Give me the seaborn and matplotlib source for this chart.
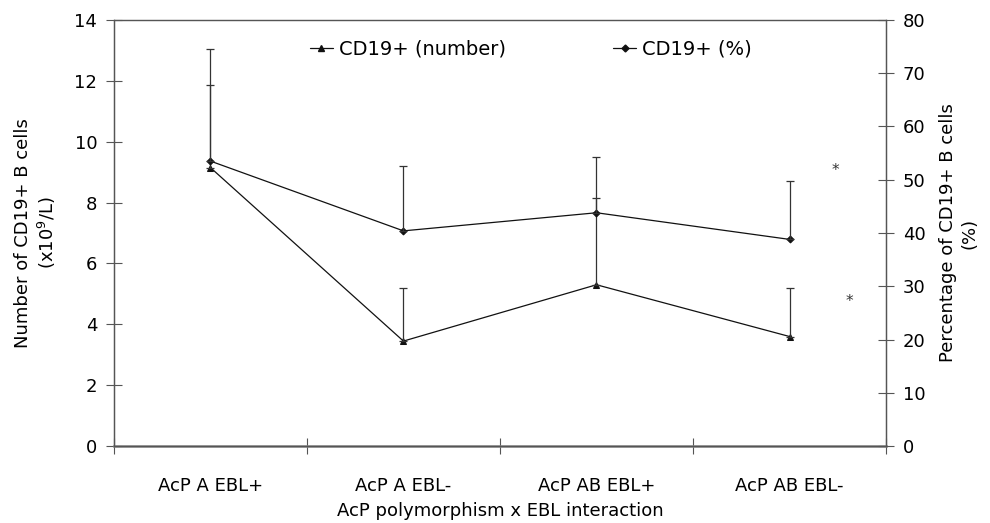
import numpy as np
import pandas as pd
import seaborn as sns
import matplotlib.pyplot as plt
from matplotlib.lines import Line2D

# Values
groups = ["AcP A EBL+", "AcP A EBL-", "AcP AB EBL+", "AcP AB EBL-"]
cd19_number = [9.15, 3.45, 5.3, 3.6]          # x10^9/L (left axis)
cd19_number_err = [2.7, 1.75, 2.85, 1.6]      # upper error only
cd19_pct = [53.5, 40.4, 43.8, 38.8]           # % (right axis)
cd19_pct_err = [21.1, 12.2, 10.5, 10.9]       # upper error only

sns.set_theme(style="white")
plt.rcParams['font.family'] = ['DejaVu Sans']
plt.rcParams['text.color'] = 'black'
plt.rcParams['axes.labelcolor'] = 'black'
plt.rcParams['xtick.labelcolor'] = 'black'
plt.rcParams['ytick.labelcolor'] = 'black'

df = pd.DataFrame({"pos": np.arange(len(groups)), "group": groups,
                   "number": cd19_number, "pct": cd19_pct})

fig, ax = plt.subplots(figsize=(9.9, 5.23), dpi=100)
ax2 = ax.twinx()

line_col = "#111111"
axis_col = "#555555"

# number series on left axis
sns.lineplot(data=df, x="pos", y="number", ax=ax, color=line_col, lw=0.9,
             marker="^", markersize=5, markeredgecolor=line_col)
ax.errorbar(df["pos"], df["number"], yerr=[np.zeros(len(groups)), cd19_number_err],
            fmt="none", ecolor="#333333", elinewidth=0.9, capsize=3, capthick=0.9)

# percentage series on right axis
sns.lineplot(data=df, x="pos", y="pct", ax=ax2, color=line_col, lw=0.9,
             marker="D", markersize=3.5, markeredgecolor=line_col)
ax2.errorbar(df["pos"], df["pct"], yerr=[np.zeros(len(groups)), cd19_pct_err],
             fmt="none", ecolor="#333333", elinewidth=0.9, capsize=3, capthick=0.9)

ax.set_xlim(-0.5, len(groups) - 0.5)
ax.set_ylim(0, 14)
ax2.set_ylim(0, 80)
ax.set_yticks(np.arange(0, 15, 2))
ax2.set_yticks(np.arange(0, 81, 10))

# ticks at category boundaries, labels at centres
ax.set_xticks(np.arange(-0.5, len(groups), 1.0))
ax.set_xticklabels([])
ax.set_xticks(np.arange(len(groups)), minor=True)
ax.set_xticklabels(groups, minor=True, fontsize=13)
ax.tick_params(axis="x", which="minor", bottom=True, length=0, pad=22)
ax.tick_params(axis="x", which="major", bottom=True, direction="inout", length=12,
               width=0.8, color=axis_col)
ax.tick_params(axis="y", left=True, direction="inout", length=12, width=0.8,
               color=axis_col, labelsize=13, pad=6)
ax2.tick_params(axis="y", right=True, direction="inout", length=12, width=0.8,
                color=axis_col, labelsize=13, pad=6)

for a in (ax, ax2):
    for side, sp in a.spines.items():
        sp.set_color(axis_col)
        sp.set_linewidth(0.9)
ax.spines["bottom"].set_linewidth(1.8)
ax.spines["bottom"].set_color("#808080")
ax.spines["top"].set_color("#808080")

ax.set_xlabel("AcP polymorphism x EBL interaction", fontsize=13, labelpad=5)
ax.set_ylabel("Number of CD19+ B cells\n(x10$^{9}$/L)", fontsize=13, labelpad=12)
ax2.set_ylabel("Percentage of CD19+ B cells\n(%)", fontsize=13, labelpad=10)

# significance marks
ax.text(3.24, 9.05, "*", ha="center", va="center", fontsize=11, color="#333333")
ax.text(3.31, 4.75, "*", ha="center", va="center", fontsize=11, color="#333333")

handles = [Line2D([], [], color=line_col, lw=0.9, marker="^", markersize=5),
           Line2D([], [], color=line_col, lw=0.9, marker="D", markersize=3.5)]
ax.legend(handles, ["CD19+ (number)", "CD19+ (%)"], ncol=2, frameon=False,
          loc="upper center", bbox_to_anchor=(0.54, 0.995), fontsize=14,
          handlelength=1.2, handletextpad=0.3, columnspacing=5.5)

fig.subplots_adjust(left=0.115, right=0.895, top=0.962, bottom=0.147)
fig.savefig("out.png", dpi=100)
